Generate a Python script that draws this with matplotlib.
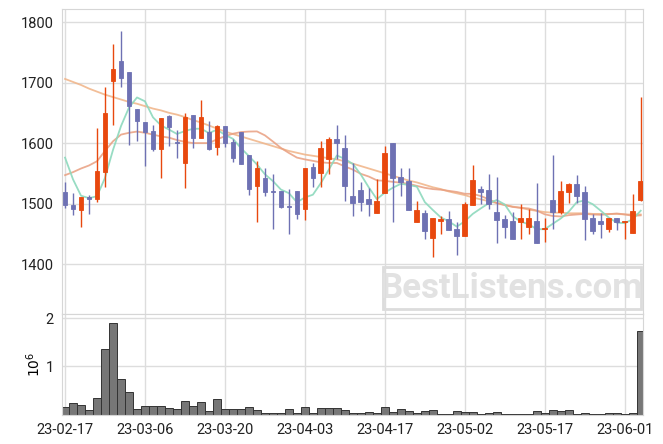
import matplotlib
matplotlib.use("Agg")
import matplotlib.pyplot as plt
from matplotlib.patches import Rectangle
import numpy as np
import pandas as pd

# trading days (KRX holidays skipped)
holidays = ['2023-03-01', '2023-05-01', '2023-05-05', '2023-05-29']
dates = pd.bdate_range('2023-02-17', periods=73, freq='C', holidays=holidays)

opens = [1519.8, 1497.3, 1489.6, 1510.4, 1507.1, 1552.2, 1702.2, 1736.3, 1718.1, 1657.1,
         1635.2, 1619.2, 1590.1, 1644.0, 1601.6, 1567.6, 1646.7, 1608.2, 1617.6, 1593.4,
         1627.5, 1601.1, 1617.6, 1579.7, 1529.1, 1541.8, 1520.3, 1520.3, 1496.2, 1520.3,
         1491.8, 1561.0, 1551.1, 1573.6, 1606.0, 1591.2, 1512.1, 1523.1, 1507.1, 1484.6,
         1517.6, 1600.5, 1543.4, 1536.8, 1469.8, 1485.2, 1443.4, 1470.9, 1474.2, 1457.7,
         1446.7, 1497.8, 1523.6, 1522.0, 1486.3, 1474.2, 1470.9, 1469.8, 1462.1, 1470.9,
         1458.2, 1505.5, 1486.3, 1519.2, 1531.9, 1519.8, 1475.8, 1470.9, 1458.8, 1475.8,
         1469.8, 1451.6, 1506.0]
highs = [1535.7, 1518.1, 1510.4, 1514.8, 1624.2, 1692.9, 1764.3, 1785.2, 1718.1, 1657.1,
         1635.2, 1630.2, 1640.7, 1645.6, 1621.4, 1650.0, 1646.7, 1672.0, 1636.3, 1629.1,
         1627.5, 1607.1, 1617.6, 1579.7, 1569.8, 1558.2, 1548.4, 1520.3, 1524.7, 1520.3,
         1558.2, 1567.6, 1603.3, 1609.3, 1629.1, 1612.6, 1567.6, 1535.7, 1525.3, 1540.1,
         1595.0, 1600.5, 1559.3, 1559.3, 1504.9, 1489.6, 1476.9, 1479.7, 1488.5, 1470.3,
         1503.3, 1563.7, 1529.1, 1548.4, 1544.5, 1480.8, 1486.3, 1500.0, 1490.7, 1534.6,
         1476.9, 1580.8, 1537.4, 1533.5, 1546.7, 1529.1, 1483.5, 1485.2, 1475.8, 1475.8,
         1470.9, 1515.4, 1676.4]
lows = [1493.4, 1480.8, 1462.1, 1483.5, 1503.3, 1528.0, 1630.2, 1692.9, 1596.7, 1603.3,
        1562.1, 1586.3, 1541.8, 1594.5, 1575.8, 1526.4, 1591.2, 1608.2, 1589.0, 1580.8,
        1593.4, 1569.2, 1565.4, 1514.3, 1469.8, 1513.2, 1457.7, 1492.3, 1450.5, 1474.2,
        1473.1, 1527.5, 1528.0, 1548.4, 1573.6, 1504.9, 1480.2, 1487.9, 1480.2, 1484.6,
        1517.6, 1470.3, 1512.6, 1489.6, 1469.8, 1441.2, 1411.0, 1450.5, 1457.1, 1415.4,
        1446.7, 1497.8, 1500.0, 1491.8, 1435.7, 1442.9, 1440.7, 1441.2, 1450.5, 1434.1,
        1436.3, 1457.7, 1482.4, 1501.6, 1501.6, 1440.1, 1450.5, 1442.9, 1453.8, 1457.1,
        1441.2, 1451.6, 1504.4]
closes = [1497.8, 1491.8, 1510.4, 1507.7, 1553.3, 1650.0, 1722.5, 1707.1, 1661.0, 1636.3,
          1618.1, 1590.1, 1640.7, 1626.4, 1600.0, 1642.3, 1608.2, 1642.3, 1590.1, 1627.5,
          1600.0, 1575.3, 1565.4, 1524.2, 1558.2, 1519.2, 1519.2, 1495.1, 1494.5, 1483.5,
          1558.2, 1542.3, 1591.2, 1606.0, 1600.0, 1529.1, 1501.1, 1503.3, 1499.5, 1503.8,
          1582.9, 1541.8, 1535.7, 1489.6, 1490.1, 1454.9, 1476.9, 1474.2, 1457.1, 1446.7,
          1498.9, 1538.5, 1519.2, 1500.0, 1473.1, 1461.5, 1440.7, 1476.9, 1475.8, 1434.1,
          1460.4, 1486.3, 1520.3, 1531.9, 1512.6, 1475.3, 1454.9, 1466.5, 1475.8, 1470.3,
          1470.9, 1487.4, 1536.8]
volumes = [160000, 240000, 200000, 100000, 350000, 1360000, 1900000, 740000, 470000, 120000,
           190000, 190000, 190000, 140000, 120000, 280000, 180000, 260000, 80000, 320000,
           120000, 120000, 120000, 150000, 100000, 35000, 35000, 35000, 120000, 35000,
           160000, 35000, 130000, 130000, 130000, 100000, 35000, 35000, 55000, 35000,
           165000, 60000, 125000, 80000, 35000, 80000, 100000, 20000, 20000, 80000,
           60000, 60000, 20000, 35000, 55000, 15000, 15000, 15000, 10000, 80000,
           40000, 100000, 80000, 100000, 20000, 35000, 15000, 15000, 35000, 35000,
           15000, 35000, 1740000]

# moving averages: first values come from history before the window
ma5_head = [1576, 1540, 1513, 1509]
ma20_head = [1547, 1552, 1558, 1563, 1570, 1587, 1603, 1614, 1617, 1619,
             1617, 1614, 1611, 1609, 1605, 1602, 1600, 1600, 1600]
ma60 = [1706, 1701, 1696, 1690, 1685, 1680, 1676, 1672, 1668, 1665,
        1661, 1657, 1654, 1650, 1647, 1643, 1638, 1634, 1629, 1624,
        1619, 1615, 1611, 1607, 1603, 1599, 1595, 1591, 1587, 1584,
        1581, 1579, 1577, 1575, 1573, 1570, 1566, 1562, 1558, 1554,
        1550, 1546, 1542, 1538, 1535, 1531, 1527, 1524, 1520, 1517,
        1514, 1510, 1507, 1504, 1501, 1498, 1495, 1493, 1490, 1488,
        1486, 1485, 1485, 1484, 1484, 1484, 1483, 1483, 1483, 1483,
        1482, 1482, 1482]

UP = '#e8480e'
DOWN = '#6e71b3'
GRID = '#dddddd'

plt.rcParams['font.family'] = ['Roboto', 'DejaVu Sans']

df = pd.DataFrame({'open': opens, 'high': highs, 'low': lows,
                   'close': closes, 'volume': volumes}, index=dates)
x = np.arange(len(df))

ma5 = df['close'].rolling(5).mean().values
ma5[:len(ma5_head)] = ma5_head
ma20 = df['close'].rolling(20).mean().values
ma20[:len(ma20_head)] = ma20_head

fig = plt.figure(figsize=(6.63, 4.44), dpi=100)
ax = fig.add_axes([0.094, 0.292, 0.876, 0.687])
axv = fig.add_axes([0.094, 0.066, 0.876, 0.226], sharex=ax)

for a in (ax, axv):
    a.set_axisbelow(True)
    a.grid(True, color=GRID, linewidth=1)
    for s in a.spines.values():
        s.set_color('#d6d6d6')
    a.tick_params(length=0, labelsize=10.5, labelcolor='#222222', pad=6)

# moving averages under the candles
ax.plot(x, ma60, color='#f0b386', linewidth=1.3, alpha=0.85, zorder=2)
ax.plot(x, ma20, color='#e99f80', linewidth=1.3, alpha=0.85, zorder=2)
ax.plot(x, ma5, color='#8dd9bd', linewidth=1.3, alpha=0.9, zorder=2)

up = df['close'] >= df['open']
colors = np.where(up, UP, DOWN)
ax.vlines(x, df['low'], df['high'], colors=colors, linewidth=1.0, zorder=3)
body_lo = np.minimum(df['open'], df['close'])
body_h = np.abs(df['close'] - df['open'])
ax.bar(x, body_h, bottom=body_lo, width=0.6, color=colors,
       edgecolor=colors, linewidth=0.6, zorder=4)

ax.set_ylim(1317, 1821)
ax.set_yticks([1400, 1500, 1600, 1700, 1800])
ax.tick_params(axis='x', labelbottom=False)

# watermark
ax.add_patch(Rectangle((0.552, 0.017), 0.444, 0.138, transform=ax.transAxes,
                       fill=False, edgecolor='#dcdcdc', linewidth=2, zorder=0.5))
ax.text(0.774, 0.085, 'BestListens.com', transform=ax.transAxes,
        ha='center', va='center', fontsize=25, fontweight='bold',
        family=['Liberation Sans Narrow', 'Roboto'], color='#e2e2e2', zorder=0.5)

axv.bar(x, df['volume'] / 1e6, width=1.0, color='#777777',
        edgecolor='#333333', linewidth=0.7)
axv.set_ylim(0, 2.08)
axv.set_yticks([1, 2])
axv.set_ylabel('$10^6$', fontsize=10, labelpad=2)

ticks = x[::10]
axv.set_xticks(ticks)
axv.set_xticklabels(df.index[::10].strftime('%y-%m-%d'))
axv.set_xlim(-0.34, 72.3)

fig.savefig('out.png', dpi=100)
